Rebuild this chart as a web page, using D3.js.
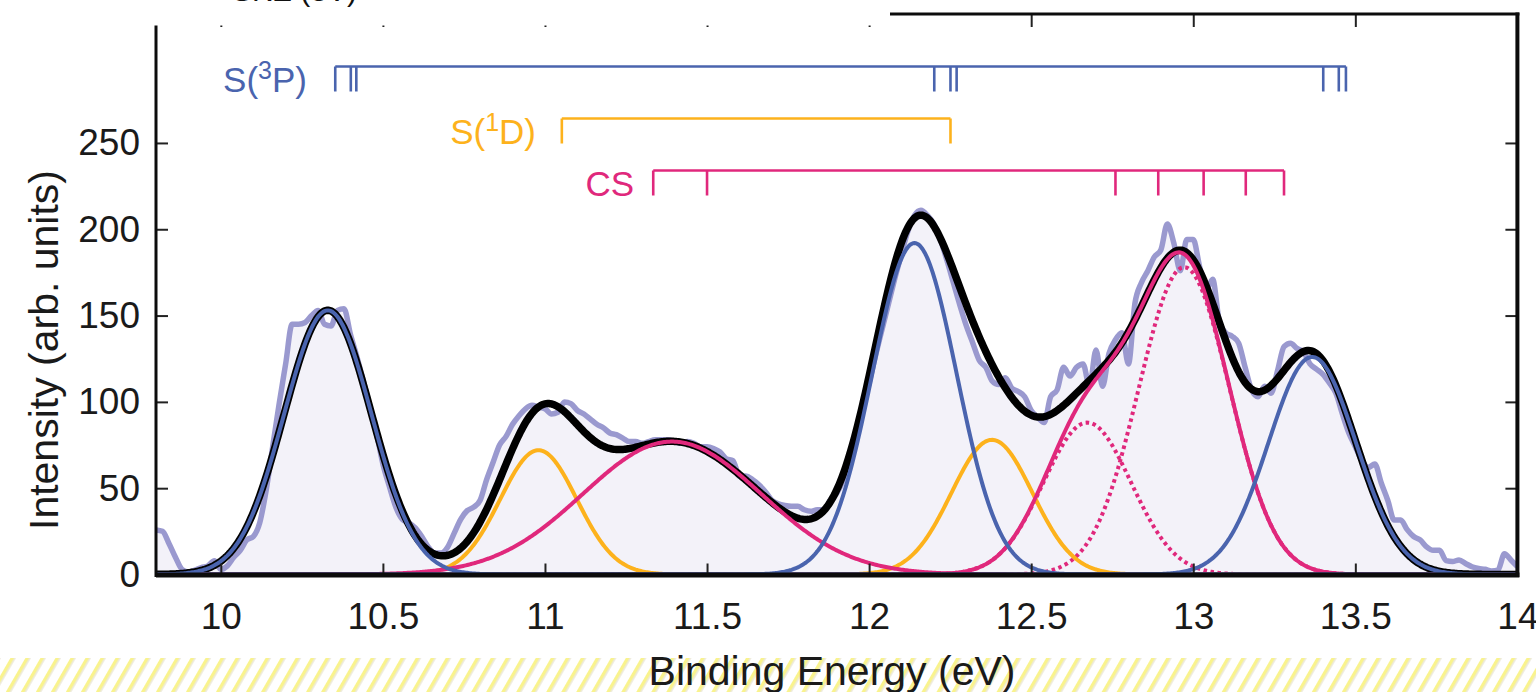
<!DOCTYPE html>
<html>
<head>
<meta charset="utf-8">
<script src="https://cdn.jsdelivr.net/npm/d3@7"></script>
<style>
  html, body { margin: 0; padding: 0; background: #fff; }
  svg { display: block; font-family: "Liberation Sans", Arial, Helvetica, sans-serif; }
</style>
</head>
<body>
<div id="chart"></div>
<script>
// measured spectrum, sampled every 0.02 eV from 9.80 eV
const dataStart = 9.8;
const dataStep = 0.02;
const intensity = [
  25.8, 25, 18, 10, 3, 1.5, 2.5, 4, 5, 8,
  3, 5, 10, 14, 20, 22, 30, 49, 74, 99,
  122, 145, 145, 146, 150, 153, 145, 144, 153, 154,
  139, 126, 112, 97, 82, 64, 51, 39, 32, 30,
  27, 22, 16, 12.5, 12.5, 16, 24, 32, 37, 39,
  43, 55, 65, 75, 80, 87, 92, 96, 98, 97,
  96, 93, 94, 100, 99, 95, 93, 90, 87, 85,
  82, 81, 79, 77, 77, 76, 77, 78, 78, 78,
  77, 76, 77, 76, 74, 74, 73, 71, 67, 66,
  57, 57, 55, 52, 48, 43, 41, 40, 39.5, 39.5,
  37.5, 36.6, 37.5, 37.5, 43, 47, 55, 68, 82, 97,
  111, 127, 142, 157, 172, 186, 199, 208, 211, 208,
  203, 194, 182, 169, 156, 144, 134, 124, 120, 112,
  110, 114, 108, 106, 103, 95, 91, 88, 103, 107,
  120, 115, 120, 122, 109, 130, 109, 128, 136, 140,
  122, 157, 169, 176, 184, 188, 203, 192, 176, 194,
  194, 178, 165, 171, 147, 140, 138, 134, 120, 107,
  103, 109, 105, 118, 132, 134, 131, 129, 122, 119,
  116, 111, 105, 93, 82, 74, 66, 62, 64, 53,
  43, 31.5, 31.5, 26, 22, 20, 16, 14, 14, 8,
  7.5, 8.4, 6.4, 4.5, 3.5, 3, 2, 2.5, 12, 8.4,
  4.5
];

// fitted gaussian components: centre (eV), height, sigma (eV)
const s3pCenters = [10.33, 12.14, 13.367];
const s3pHeights = [153, 192, 126];
const s3pSigmas = [0.135, 0.13, 0.135];

const s1dCenters = [10.98, 12.379];
const s1dHeights = [72, 78];
const s1dSigmas = [0.118, 0.125];

const csBroadCenter = 11.392, csBroadHeight = 77, csBroadSigma = 0.275;
const csCenters = [12.673, 12.972];
const csHeights = [88, 178];
const csSigmas = [0.135, 0.14];

// assignment combs
const s3pLines = [10.353, 10.401, 10.418, 12.201, 12.251, 12.27, 13.401, 13.449, 13.471];
const s1dLines = [11.052, 12.251];
const csLines = [11.334, 11.5, 12.76, 12.892, 13.032, 13.162, 13.28];

const xTicks = [10, 10.5, 11, 11.5, 12, 12.5, 13, 13.5, 14];
const yTicks = [0, 50, 100, 150, 200, 250];

const BLUE = "#4a64ae";
const ORANGE = "#fdb21c";
const PINK = "#e0287c";
const DATA = "#9a99cf";
const FILL = "#f3f2f9";

const W = 1536, H = 692;
const x = d3.scaleLinear().domain([9.8, 14]).range([156, 1517.4]);
const y = d3.scaleLinear().domain([0, 324.7]).range([574.5, 14]);

const svg = d3.select("#chart").append("svg").attr("width", W).attr("height", H);

// hatched strip along the bottom edge
const defs = svg.append("defs");
const pat = defs.append("pattern")
  .attr("id", "hatch").attr("patternUnits", "userSpaceOnUse")
  .attr("width", 13).attr("height", 13)
  .attr("patternTransform", "rotate(30)");
pat.append("rect").attr("width", 13).attr("height", 13).attr("fill", "#fff");
pat.append("rect").attr("x", 0).attr("width", 3.5).attr("height", 13).attr("fill", "#f9f38e");
pat.append("rect").attr("x", 3.5).attr("width", 1).attr("height", 13).attr("fill", "#e2dec8");
svg.append("rect").attr("x", 0).attr("y", 658).attr("width", W).attr("height", H - 658)
  .attr("fill", "url(#hatch)");

defs.append("clipPath").attr("id", "plotclip").append("rect")
  .attr("x", 156).attr("y", 14).attr("width", 1517.4 - 156).attr("height", 574.5 - 14);

const gauss = (e, c, h, s) => h * Math.exp(-((e - c) ** 2) / (2 * s * s));
const grid = d3.range(9.8, 14.0001, 0.004);

const spectrum = intensity.map((v, i) => ({ e: dataStart + i * dataStep, v }));

const plot = svg.append("g").attr("clip-path", "url(#plotclip)");

// measured data: filled area + trace
plot.append("path")
  .datum(spectrum)
  .attr("fill", FILL)
  .attr("d", d3.area().x(d => x(d.e)).y0(y(0)).y1(d => y(d.v)).curve(d3.curveMonotoneX));

plot.append("path")
  .datum(spectrum)
  .attr("fill", "none")
  .attr("stroke", DATA)
  .attr("stroke-width", 5.5)
  .attr("stroke-linejoin", "round")
  .attr("d", d3.line().x(d => x(d.e)).y(d => y(d.v)).curve(d3.curveMonotoneX));

// components
const comp = (c, h, s) => grid.map(e => ({ e, v: gauss(e, c, h, s) }));
const blueCurves = s3pCenters.map((c, i) => comp(c, s3pHeights[i], s3pSigmas[i]));
const orangeCurves = s1dCenters.map((c, i) => comp(c, s1dHeights[i], s1dSigmas[i]));
const csBroad = comp(csBroadCenter, csBroadHeight, csBroadSigma);
const csDotted = csCenters.map((c, i) => comp(c, csHeights[i], csSigmas[i]));
const csSum = grid.map((e, k) => ({ e, v: csDotted[0][k].v + csDotted[1][k].v }));

const fit = grid.map((e, k) => ({
  e,
  v: d3.sum(blueCurves, c => c[k].v) + d3.sum(orangeCurves, c => c[k].v) +
     csBroad[k].v + csSum[k].v
}));

const line = d3.line().x(d => x(d.e)).y(d => y(d.v));

plot.append("path").datum(fit)
  .attr("fill", "none").attr("stroke", "#000").attr("stroke-width", 7.5)
  .attr("d", line);

const drawCurve = (pts, color, dashed) => {
  const p = plot.append("path").datum(pts)
    .attr("fill", "none").attr("stroke", color).attr("stroke-width", 4)
    .attr("d", line);
  if (dashed) p.attr("stroke-dasharray", "3.5,3.5");
};

csDotted.forEach(c => drawCurve(c, PINK, true));
orangeCurves.forEach(c => drawCurve(c, ORANGE));
drawCurve(csBroad, PINK);
drawCurve(csSum, PINK);
blueCurves.forEach(c => drawCurve(c, BLUE));

// assignment combs
function comb(lines, color, yLine, label, sup, tail, labelX) {
  const g = svg.append("g").attr("stroke", color).attr("stroke-width", 2.6).attr("fill", "none");
  g.append("line")
    .attr("x1", x(d3.min(lines))).attr("x2", x(d3.max(lines)))
    .attr("y1", yLine).attr("y2", yLine);
  g.selectAll(".t").data(lines).enter().append("line")
    .attr("x1", d => x(d)).attr("x2", d => x(d))
    .attr("y1", yLine).attr("y2", yLine + 25);
  const t = svg.append("text")
    .attr("x", labelX).attr("y", yLine + 25)
    .attr("text-anchor", "end")
    .attr("fill", color)
    .style("font-size", "35px");
  if (sup) {
    t.append("tspan").text(label);
    t.append("tspan").attr("dy", -13).style("font-size", "25px").text(sup);
    t.append("tspan").attr("dy", 13).text(tail);
  } else {
    t.text(label);
  }
}
comb(s3pLines, BLUE, 66.5, "S(", "3", "P)", 307);
comb(s1dLines, ORANGE, 118.5, "S(", "1", "D)", 536);
comb(csLines, PINK, 170.5, "CS", null, null, 634);

// axes with inward ticks
const fmt = d => String(d);
const axB = svg.append("g").attr("transform", `translate(0,${y(0)})`)
  .call(d3.axisBottom(x).tickValues(xTicks).tickSize(-11).tickPadding(28).tickFormat(fmt));
const axT = svg.append("g").attr("transform", `translate(0,14)`)
  .call(d3.axisTop(x).tickValues(xTicks).tickSize(-13).tickFormat(""));
const axL = svg.append("g").attr("transform", `translate(156,0)`)
  .call(d3.axisLeft(y).tickValues(yTicks).tickSize(-12).tickPadding(16).tickFormat(fmt));
const axR = svg.append("g").attr("transform", `translate(1517.4,0)`)
  .call(d3.axisRight(y).tickValues(yTicks).tickSize(-12).tickFormat(""));

[axB, axT, axL, axR].forEach(a => {
  a.select(".domain").remove();
  a.selectAll(".tick line").attr("stroke", "#222").attr("stroke-width", 2);
  a.selectAll(".tick text")
    .attr("fill", "#1a1a1a")
    .style("font-size", "37px")
    .style("font-family", "'Liberation Sans', Arial, sans-serif");
});

// frame
svg.append("line").attr("x1", 156).attr("x2", 1519.4).attr("y1", 575).attr("y2", 575)
  .attr("stroke", "#0c0c0c").attr("stroke-width", 5);
svg.append("line").attr("x1", 156).attr("x2", 156).attr("y1", 14).attr("y2", 577)
  .attr("stroke", "#0c0c0c").attr("stroke-width", 3);
svg.append("line").attr("x1", 1517.4).attr("x2", 1517.4).attr("y1", 12.5).attr("y2", 577)
  .attr("stroke", "#0c0c0c").attr("stroke-width", 4);
svg.append("line").attr("x1", 156).attr("x2", 1519.4).attr("y1", 14).attr("y2", 14)
  .attr("stroke", "#0c0c0c").attr("stroke-width", 3);

// white panel covering the upper-left corner (from the figure above)
svg.append("rect").attr("x", 0).attr("y", 0).attr("width", 890).attr("height", 25.5).attr("fill", "#fff");
svg.append("text").attr("x", 232).attr("y", 1)
  .attr("fill", "#111").style("font-size", "30px").text("SKE (eV)");

// axis titles
svg.append("text")
  .attr("x", 832).attr("y", 685)
  .attr("text-anchor", "middle")
  .attr("fill", "#1a1a1a")
  .style("font-size", "41px")
  .text("Binding Energy (eV)");

svg.append("text")
  .attr("transform", "translate(58,350) rotate(-90)")
  .attr("text-anchor", "middle")
  .attr("fill", "#1a1a1a")
  .style("font-size", "41px")
  .text("Intensity (arb. units)");
</script>
</body>
</html>
